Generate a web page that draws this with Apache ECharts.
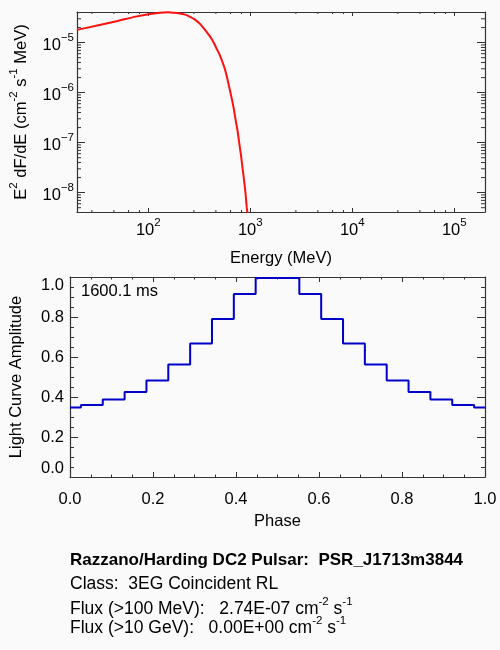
<!DOCTYPE html>
<html>
<head>
<meta charset="utf-8">
<script src="https://cdn.jsdelivr.net/npm/echarts@6/dist/echarts.min.js"></script>
<style>
  html, body { margin: 0; padding: 0; background: #fafafa; }
  #chart { width: 500px; height: 650px; }
</style>
</head>
<body>
<div id="chart"></div>
<script>
// spectrum
const energyMeV = [20, 30, 50, 75, 100, 130, 155, 171, 198, 230, 257, 287, 321, 358, 394, 431, 464, 500,
  559, 593, 624, 656, 687, 717, 751, 779, 809, 839, 871, 897, 924, 937, 950]
const e2dfde = [1.80e-5, 2.15e-5, 2.72e-5, 3.31e-5, 3.70e-5, 3.98e-5, 4.07e-5, 3.98e-5, 3.87e-5, 3.63e-5,
  3.27e-5, 2.88e-5, 2.37e-5, 1.82e-5, 1.41e-5, 1.07e-5, 7.83e-6, 5.75e-6,
  3.12e-6, 1.97e-6, 1.24e-6, 7.83e-7, 4.94e-7, 2.88e-7, 1.69e-7, 9.86e-8, 5.75e-8, 3.12e-8, 1.69e-8,
  9.86e-9, 4.94e-9, 3.93e-9, 2.51e-9]

// light curve (histogram, 20 phase points)
const phase = [0, 0.0526, 0.1053, 0.1579, 0.2105, 0.2632, 0.3158, 0.3684, 0.4211, 0.4737,
  0.5263, 0.5789, 0.6316, 0.6842, 0.7368, 0.7895, 0.8421, 0.8947, 0.9474, 1.0]
const amplitude = [0.348, 0.360, 0.387, 0.425, 0.483, 0.563, 0.667, 0.790, 0.915, 0.995,
  0.995, 0.915, 0.790, 0.667, 0.563, 0.483, 0.425, 0.387, 0.360, 0.348]

// minor tick values of the log axes
const energyMinorTicks = [28, 46, 64, 82, 280, 460, 640, 820, 2800, 4600, 6400, 8200, 28000, 46000, 64000, 82000]
const fluxMinorTicks = [5e-9, 6e-9, 7e-9, 8e-9, 9e-9,
  2e-8, 3e-8, 4e-8, 5e-8, 6e-8, 7e-8, 8e-8, 9e-8,
  2e-7, 3e-7, 4e-7, 5e-7, 6e-7, 7e-7, 8e-7, 9e-7,
  2e-6, 3e-6, 4e-6, 5e-6, 6e-6, 7e-6, 8e-6, 9e-6,
  2e-5, 3e-5, 4e-5]

const periodLabel = '1600.1 ms'
const infoLines = [
  '{h|Razzano/Harding DC2 Pulsar:  PSR_J1713m3844}',
  '{b|Class:  3EG Coincident RL}',
  '{b|Flux (>100 MeV):   2.74E-07 cm}{s|-2}{b| s}{s|-1}',
  '{b|Flux (>10 GeV):   0.00E+00 cm}{s|-2}{b| s}{s|-1}',
]

const E_MIN = 20, E_MAX = 2e5
const F_MIN = 4.1e-9, F_MAX = 4.1e-5

const font = '"Liberation Sans", Arial, Helvetica, sans-serif'
const ink = '#000'
const frame = '#333'

const supRich = (size, supSize) => ({
  b: { fontSize: size, fontFamily: font, color: ink, lineHeight: 22, verticalAlign: 'bottom' },
  s: { fontSize: supSize, fontFamily: font, color: ink, lineHeight: 8, verticalAlign: 'top' },
})

// 10^n with a real minus sign in the exponent
const powLabel = (v) => {
  const n = Math.round(Math.log10(v))
  return `{b|10}{s|${String(n).replace('-', '\u2212')}}`
}

const boxAxis = (base) => ({
  axisLine: { show: true, onZero: false, lineStyle: { color: frame, width: 1.2 } },
  splitLine: { show: false },
  ...base,
})

const chart = echarts.init(document.getElementById('chart'))

const minorTickSeries = (values, dir, axisIdx, len) => ({
  type: 'custom',
  xAxisIndex: axisIdx,
  yAxisIndex: axisIdx,
  silent: true,
  clip: false,
  z: 3,
  data: values.map(v => dir === 'x' ? [v, F_MIN] : [E_MIN, v]),
  renderItem: (params, api) => {
    const cs = params.coordSys
    const p = api.coord([api.value(0), api.value(1)])
    const style = { stroke: frame, lineWidth: 1 }
    if (dir === 'x') {
      const x = p[0], yb = cs.y + cs.height, yt = cs.y
      return { type: 'group', children: [
        { type: 'line', shape: { x1: x, y1: yb, x2: x, y2: yb - len }, style },
        { type: 'line', shape: { x1: x, y1: yt, x2: x, y2: yt + len }, style },
      ] }
    }
    const y = p[1], xl = cs.x, xr = cs.x + cs.width
    return { type: 'group', children: [
      { type: 'line', shape: { x1: xl, y1: y, x2: xl + len, y2: y }, style },
      { type: 'line', shape: { x1: xr, y1: y, x2: xr - len, y2: y }, style },
    ] }
  },
})

chart.setOption({
  backgroundColor: '#fafafa',
  animation: false,
  grid: [
    { left: 70, top: 12, width: 415, height: 200 },
    { left: 70, top: 277, width: 415, height: 200 },
  ],
  xAxis: [
    boxAxis({
      gridIndex: 0, type: 'log', logBase: 10, min: E_MIN, max: E_MAX, position: 'bottom',
      axisTick: { inside: true, length: 4, lineStyle: { color: frame } },
      axisLabel: { formatter: powLabel, rich: supRich(16.5, 11.5), margin: 5, showMinLabel: false, showMaxLabel: false },
      name: 'Energy (MeV)', nameLocation: 'middle', nameGap: 38,
      nameTextStyle: { fontSize: 16.5, fontFamily: font, color: ink },
    }),
    boxAxis({
      gridIndex: 0, type: 'log', logBase: 10, min: E_MIN, max: E_MAX, position: 'top',
      axisTick: { inside: true, length: 4, lineStyle: { color: frame } },
      axisLabel: { show: false },
    }),
    boxAxis({
      gridIndex: 1, type: 'value', min: 0, max: 1, interval: 0.2, position: 'bottom',
      axisTick: { inside: true, length: 5, lineStyle: { color: frame } },
      minorTick: { show: true, splitNumber: 4, length: 2.5, lineStyle: { color: frame } },
      axisLabel: { formatter: v => v.toFixed(1), fontSize: 16.5, fontFamily: font, color: ink, margin: 14 },
      name: 'Phase', nameLocation: 'middle', nameGap: 36,
      nameTextStyle: { fontSize: 16.5, fontFamily: font, color: ink },
    }),
    boxAxis({
      gridIndex: 1, type: 'value', min: 0, max: 1, interval: 0.2, position: 'top',
      axisTick: { inside: true, length: 5, lineStyle: { color: frame } },
      minorTick: { show: true, splitNumber: 4, length: 2.5, lineStyle: { color: frame } },
      axisLabel: { show: false },
    }),
  ],
  yAxis: [
    boxAxis({
      gridIndex: 0, type: 'log', logBase: 10, min: F_MIN, max: F_MAX, position: 'left',
      axisTick: { inside: true, length: 8, lineStyle: { color: frame } },
      axisLabel: { formatter: powLabel, rich: supRich(16.5, 11.5), margin: 3, showMinLabel: false, showMaxLabel: false },
      name: '{b|E}{s|2}{b| dF/dE (cm}{s|-2}{b| s}{s|-1}{b| MeV)}',
      nameLocation: 'middle', nameGap: 47, nameRotate: 90,
      nameTextStyle: { rich: supRich(16.5, 11.5), padding: [0, 0, 0, 0] },
    }),
    boxAxis({
      gridIndex: 0, type: 'log', logBase: 10, min: F_MIN, max: F_MAX, position: 'right',
      axisTick: { inside: true, length: 8, lineStyle: { color: frame } },
      axisLabel: { show: false },
    }),
    boxAxis({
      gridIndex: 1, type: 'value', min: 0, max: 1, interval: 0.2, position: 'left',
      axisTick: { inside: true, length: 8, lineStyle: { color: frame } },
      minorTick: { show: true, splitNumber: 4, length: 4, lineStyle: { color: frame } },
      axisLabel: { formatter: v => v.toFixed(1), fontSize: 16.5, fontFamily: font, color: ink, margin: 6,
        verticalAlignMinLabel: 'bottom', verticalAlignMaxLabel: 'top' },
      name: 'Light Curve Amplitude', nameLocation: 'middle', nameGap: 45, nameRotate: 90,
      nameTextStyle: { fontSize: 16.5, fontFamily: font, color: ink },
    }),
    boxAxis({
      gridIndex: 1, type: 'value', min: 0, max: 1, interval: 0.2, position: 'right',
      axisTick: { inside: true, length: 8, lineStyle: { color: frame } },
      minorTick: { show: true, splitNumber: 4, length: 4, lineStyle: { color: frame } },
      axisLabel: { show: false },
    }),
  ],
  series: [
    {
      type: 'line',
      xAxisIndex: 0, yAxisIndex: 0,
      data: energyMeV.map((e, i) => [e, e2dfde[i]]),
      smooth: 0.2,
      showSymbol: false,
      lineStyle: { color: '#ff1010', width: 2 },
      z: 5,
    },
    minorTickSeries(energyMinorTicks, 'x', 0, 2),
    minorTickSeries(fluxMinorTicks, 'y', 0, 4),
    {
      type: 'line',
      xAxisIndex: 2, yAxisIndex: 2,
      data: phase.map((p, i) => [p, amplitude[i]]),
      step: 'middle',
      showSymbol: false,
      clip: false,
      lineStyle: { color: '#0000c8', width: 2 },
      z: 5,
    },
  ],
  graphic: [
    {
      type: 'text', left: 81, top: 283,
      style: { text: periodLabel, font: `16.5px ${font}`, fill: ink },
    },
    ...infoLines.map((line, i) => ({
      type: 'text',
      x: 70,
      y: [558, 582, 607, 626][i],
      style: {
        text: line,
        verticalAlign: 'middle',
        rich: {
          h: { fontSize: 17, fontWeight: 'bold', fontFamily: font, fill: ink, lineHeight: 22, verticalAlign: 'bottom' },
          b: { fontSize: 17.5, fontFamily: font, fill: ink, lineHeight: 22, verticalAlign: 'bottom' },
          s: { fontSize: 11.5, fontFamily: font, fill: ink, lineHeight: 8, verticalAlign: 'top' },
        },
      },
    })),
  ],
})
</script>
</body>
</html>
